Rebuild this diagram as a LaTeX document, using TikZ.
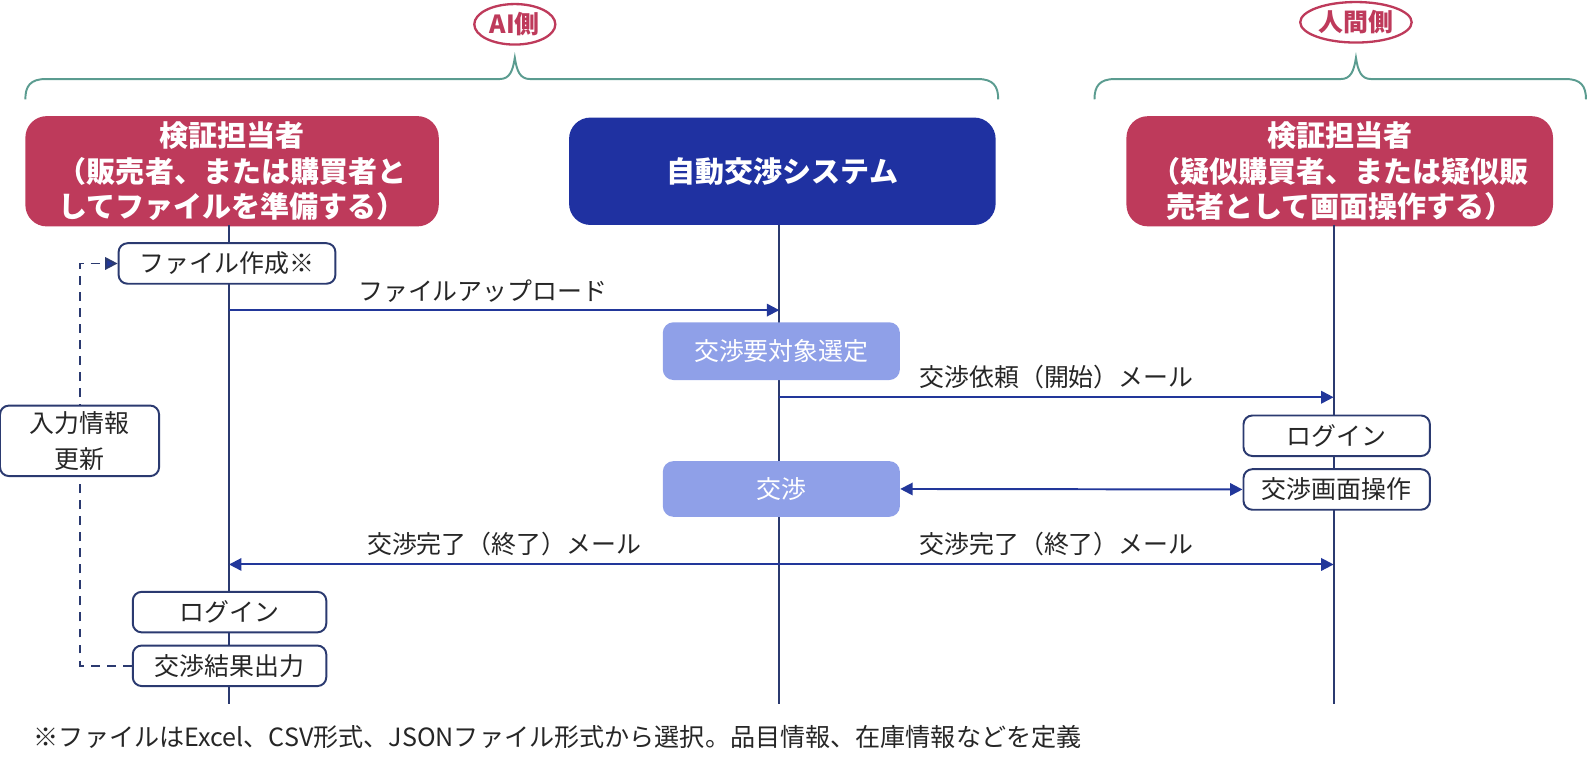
\documentclass[tikz,border=0pt]{standalone}
\usepackage{fontspec}
\setmainfont{Noto Sans CJK JP}
\usetikzlibrary{arrows.meta,shapes.geometric}

\definecolor{crimson}{HTML}{BE3A5B}
\definecolor{sysblue}{HTML}{1F31A1}
\definecolor{stepblue}{HTML}{8FA0E8}
\definecolor{navy}{HTML}{2B3A70}
\definecolor{arrblue}{HTML}{22379A}
\definecolor{teal}{HTML}{5B9C90}
\definecolor{txt}{HTML}{262626}

\tikzset{
  headbox/.style={rounded corners=12pt, text=white, align=center,
    font=\fontsize{16.3}{19.8}\selectfont\bfseries, minimum height=2.12cm},
  sidetag/.style={ellipse, draw=crimson, line width=1.3pt, text=crimson,
    font=\fontsize{14}{16}\selectfont\bfseries, inner sep=1pt},
  actbox/.style={draw=navy, line width=1.1pt, fill=white, rounded corners=5pt,
    text=txt, font=\fontsize{14}{18}\selectfont, minimum height=0.8cm,
    minimum width=3.82cm, align=center},
  sysbox/.style={fill=stepblue, rounded corners=6pt, text=white,
    font=\fontsize{14}{16}\selectfont, minimum width=4.68cm},
  life/.style={draw=navy, line width=1.1pt},
  msg/.style={draw=arrblue, line width=1.1pt, -{Triangle[length=7pt,width=7pt]}},
  msglabel/.style={text=txt, font=\fontsize{14}{16}\selectfont, inner sep=1pt},
  brace/.style={draw=teal, line width=1.1pt},
}

\begin{document}
\begin{tikzpicture}[x=0.02cm, y=-0.02cm]
    \useasboundingbox (0,0) rectangle (1566,759);

    % side tags and braces
    \node[sidetag, minimum width=1.6cm, minimum height=0.8cm] (aitag) at (508,24) {AI側};
    \node[sidetag, minimum width=2.2cm, minimum height=0.8cm] (hutag) at (1338,22) {人間側};

    \draw[brace] (25,98) .. controls (25,85) and (30,78) .. (45,78) -- (493,78)
        .. controls (503,78) and (506,70) .. (508,57)
        .. controls (510,70) and (513,78) .. (523,78) -- (965,78)
        .. controls (980,78) and (985,85) .. (985,98);
    \draw[brace] (1080,98) .. controls (1080,85) and (1085,78) .. (1100,78) -- (1323,78)
        .. controls (1333,78) and (1336,70) .. (1338,57)
        .. controls (1340,70) and (1343,78) .. (1353,78) -- (1545,78)
        .. controls (1560,78) and (1565,85) .. (1565,98);

    % headers
    \node[headbox, fill=crimson, minimum width=8.16cm] (lhead) at (229,169)
        {検証担当者\\（販売者、または購買者と\\してファイルを準備する）};
    \node[headbox, fill=sysblue, minimum width=8.42cm] (shead) at (772,169)
        {自動交渉システム};
    \node[headbox, fill=crimson, minimum width=8.42cm] (rhead) at (1322,169)
        {検証担当者\\（疑似購買者、または疑似販\\売者として画面操作する）};

    % lifelines
    \coordinate (ltop) at (226,222);  \coordinate (lbot) at (226,695);
    \coordinate (stop) at (769,222);  \coordinate (sbot) at (769,695);
    \coordinate (rtop) at (1316,222); \coordinate (rbot) at (1316,695);
    \draw[life] (ltop) -- (lbot);
    \draw[life] (stop) -- (sbot);
    \draw[life] (rtop) -- (rbot);

    % message points
    \coordinate (up1) at (226,306);  \coordinate (up2) at (769,306);
    \coordinate (rq1) at (769,392);  \coordinate (rq2) at (1316,392);
    \coordinate (dn0) at (769,557);
    \coordinate (dnl) at (226,557);  \coordinate (dnr) at (1316,557);

    % AI side steps
    \node[actbox, minimum width=4.28cm] (lfile) at (224,260) {ファイル作成※};
    \node[actbox] (llogin) at (226.5,604) {ログイン};
    \node[actbox] (lres)   at (226.5,657) {交渉結果出力};

    % system steps
    \node[sysbox, minimum height=1.14cm] (select) at (771,346.5) {交渉要対象選定};
    \node[sysbox, minimum height=1.10cm] (nego)   at (771,482.5) {交渉};

    % human side steps
    \node[actbox, minimum width=3.68cm] (rlogin) at (1319,430) {ログイン};
    \node[actbox, minimum width=3.68cm] (rop)    at (1319,483) {交渉画面操作};

    % messages
    \draw[msg] (up1) -- (up2) node[msglabel, midway, above=3pt, xshift=-12] {ファイルアップロード};
    \draw[msg] (rq1) -- (rq2) node[msglabel, midway, above=3pt] {交渉依頼（開始）メール};
    \draw[msg] (dn0) -- (dnl) node[msglabel, midway, above=3pt] {交渉完了（終了）メール};
    \draw[msg] (dn0) -- (dnr) node[msglabel, midway, above=3pt] {交渉完了（終了）メール};
    \draw[draw=arrblue, line width=1.1pt, {Triangle[length=7pt,width=7pt]}-{Triangle[length=7pt,width=7pt]}]
        (nego.east) -- (rop.west);

    % feedback loop
    \coordinate (fbc) at (79,450);
    \draw[draw=navy, line width=1.1pt, dash pattern=on 5pt off 4pt,
          -{Triangle[length=7pt,width=7pt,fill=arrblue]}]
        (lres.west) -| (fbc) |- (lfile.west);
    \node[actbox, minimum width=3.14cm, minimum height=1.32cm, font=\fontsize{14}{20}\selectfont]
        (update) at (78.5,435) {入力情報\\更新};

    % footnote
    \node[text=txt, font=\fontsize{14.1}{16}\selectfont, anchor=west, inner sep=0pt] (note) at (33,727)
        {※ファイルはExcel、CSV形式、JSONファイル形式から選択。品目情報、在庫情報などを定義};

\end{tikzpicture}
\end{document}
